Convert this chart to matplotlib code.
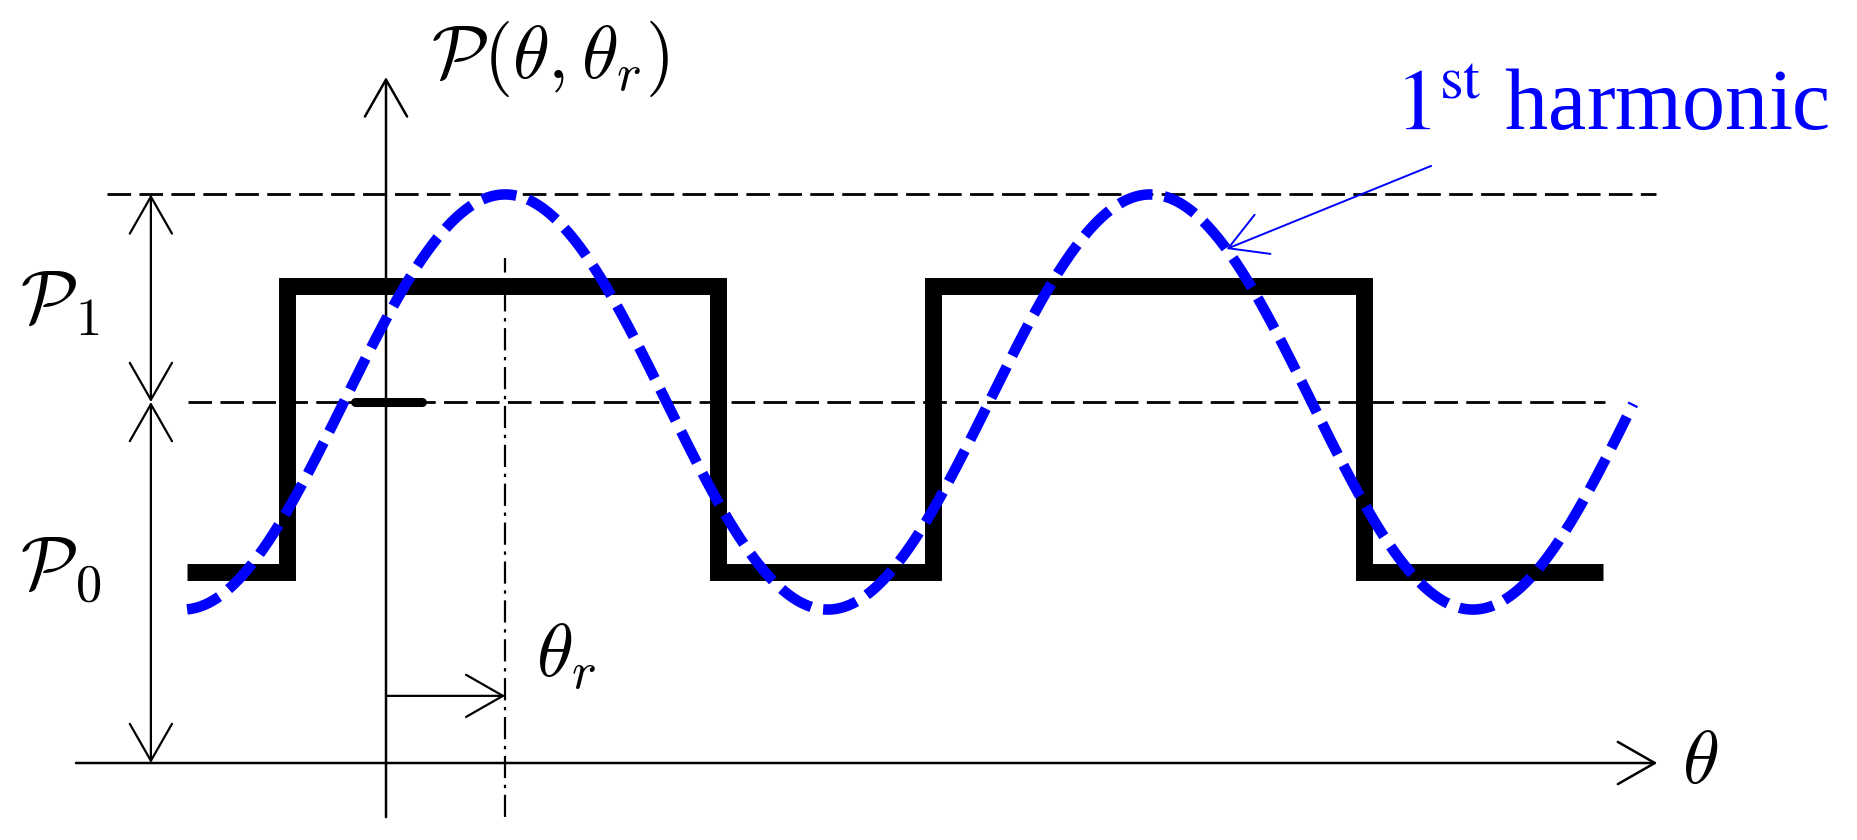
import numpy as np
import matplotlib.pyplot as plt
from matplotlib.patches import FancyArrowPatch

plt.rcParams['mathtext.fontset'] = 'cm'

# angle theta in degrees, levels in units of P0
theta_r = 66.5
p0 = 1.0
p1 = 0.575

# square wave: edges and the level that starts at each edge
sq_edges = [-111, -55, 185, 305, 546, 679]
sq_levels = [0.53, 1.32, 0.53, 1.32, 0.53, 0.53]

# range of the 1st harmonic curve
harm_start, harm_end = -111, 696
harm_label_at = 469

fig = plt.figure(figsize=(18.58, 8.40), dpi=100)
ax = fig.add_axes([0, 0, 1, 1])
ax.set_xlim(-215.4, 821.4)
ax.set_ylim(-0.2133, 2.1136)
ax.axis('off')


def arrow(a, b, style='->', color='black', lw=1.8):
    ax.add_patch(FancyArrowPatch(a, b, arrowstyle=style + ',head_length=1.33,head_width=0.76',
                                 mutation_scale=20, shrinkA=0, shrinkB=0,
                                 lw=lw, color=color, zorder=3))


def harmonic(t):
    return p0 + p1 * np.cos(np.radians(np.asarray(t) - theta_r))


# reference levels
ax.plot([-155.7, 708.8], [p0 + p1, p0 + p1], color='black', lw=2.0,
        linestyle=(0, (8.5, 3.0)), zorder=1)
ax.plot([-110.5, 680.4], [p0, p0], color='black', lw=2.0,
        linestyle=(0, (8.5, 3.0)), zorder=1)

# theta_r marker line
ax.plot([theta_r, theta_r], [-0.15, 1.40], color='black', lw=1.6,
        linestyle=(0, (10, 3, 1.5, 3)), zorder=1)

# axes
arrow((-173, 0), (709.4, 0))
arrow((0, -0.15), (0, 1.90))

# P0 / P1 dimension arrows
arrow((-131.2, 0), (-131.2, p0), style='<->', lw=1.6)
arrow((-131.2, p0), (-131.2, p0 + p1), style='<->', lw=1.6)

# theta_r shift arrow
arrow((0, 0.186), (theta_r, 0.186), lw=1.6)

# small tick on the P axis at P0
ax.plot([-17.3, 20.1], [p0, p0], color='black', lw=6.5, solid_capstyle='round', zorder=3)

# square wave
ax.step(sq_edges, sq_levels, where='post', color='black', lw=12.2,
        solid_joinstyle='miter', solid_capstyle='butt', zorder=2)

# first harmonic
t = np.linspace(harm_start, harm_end, 800)
ax.plot(t, harmonic(t), color='#0000ff', lw=7.6, linestyle=(0, (3.3, 1.15)),
        dash_capstyle='butt', zorder=4)

# labels
ax.text(25.1, 1.898, r'$\mathcal{P}(\theta,\theta_r)$', fontsize=54, va='baseline')
ax.text(-204.3, 1.219, r'$\mathcal{P}_1$', fontsize=54, va='baseline')
ax.text(-204.3, 0.479, r'$\mathcal{P}_0$', fontsize=54, va='baseline')
ax.text(83.7, 0.238, r'$\theta_r$', fontsize=54, va='baseline')
ax.text(723.3, -0.055, r'$\theta$', fontsize=54, va='baseline')

ax.text(563.2, 1.753, r'$1^{\mathrm{st}}$ harmonic', fontsize=62, va='baseline',
        family='Liberation Serif', math_fontfamily='stix', color='#0000ff')
arrow((583.2, 1.654), (harm_label_at, float(harmonic(harm_label_at))),
      color='#0000ff', lw=1.4)

fig.savefig('out.png', dpi=100)
